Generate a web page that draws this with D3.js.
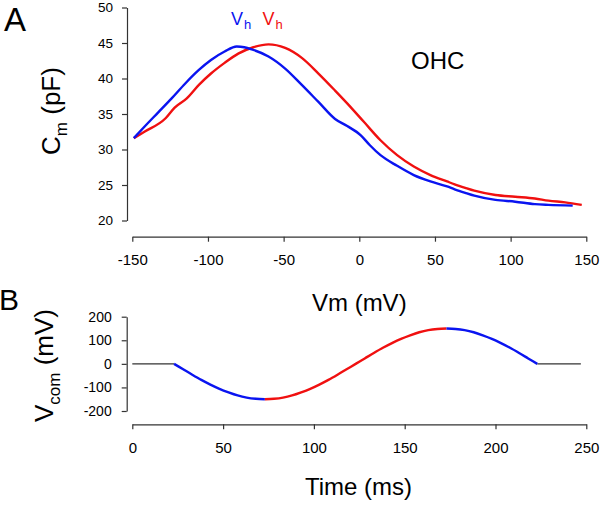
<!DOCTYPE html>
<html>
<head>
<meta charset="utf-8">
<script src="https://cdn.jsdelivr.net/npm/d3@7"></script>
<style>
  html, body { margin: 0; padding: 0; background: #fff; }
  svg { display: block; font-family: Arial, "Liberation Sans", sans-serif; }
</style>
</head>
<body>
<svg id="chart" width="600" height="505"></svg>
<script>
// ---------- Panel A data: Cm (pF) vs Vm (mV) ----------
const blueV = [-149, -142, -133, -124, -115, -106, -98, -89, -81, -76, -71, -60, -49, -38, -27, -16, -8, 1, 7, 14, 25, 36, 47, 58, 63, 70, 76, 90, 103, 116, 125, 141];
const blueC = [31.6, 33.2, 35.2, 37.2, 39.3, 41.2, 42.6, 43.8, 44.5, 44.4, 44.1, 43.1, 41.4, 39.1, 36.7, 34.3, 33.3, 32.0, 30.6, 29.2, 27.7, 26.4, 25.5, 24.8, 24.4, 23.9, 23.5, 22.9, 22.65, 22.3, 22.2, 22.1];
const redV  = [-149, -142, -128, -122, -114, -106, -98, -89, -80, -70, -60, -49, -38, -27, -16, -8, 3, 14, 25, 36, 47, 58, 63, 70, 76, 90, 103, 116, 125, 136, 147];
const redC  = [31.6, 32.5, 34.4, 35.9, 37.2, 39.1, 40.7, 42.2, 43.5, 44.4, 44.8, 44.3, 42.9, 40.7, 38.3, 36.5, 33.9, 31.3, 29.2, 27.6, 26.4, 25.5, 25.1, 24.6, 24.2, 23.6, 23.35, 23.1, 22.8, 22.55, 22.2];
const aXTicks = [-150, -100, -50, 0, 50, 100, 150];
const aYTicks = [20, 25, 30, 35, 40, 45, 50];

// ---------- Panel B data: Vcom (mV) vs Time (ms) ----------
const flat1T = [0, 23];          const flat1V = [0, 0];
const blue1T = [23, 28, 33, 38, 43, 48, 53, 58, 63, 68, 73];
const blue1V = [0, -23, -46, -68, -88, -106, -121, -134, -143, -148, -150];
const redBT  = [73, 78, 83, 88, 93, 98, 103, 108, 113, 118, 123, 128, 133, 138, 143, 148, 153, 158, 163, 168, 173];
const redBV  = [-150, -148, -143, -134, -121, -106, -88, -68, -46, -23, 0, 23, 46, 68, 88, 106, 121, 134, 143, 148, 150];
const blue2T = [173, 178, 183, 188, 193, 198, 203, 208, 213, 218, 223];
const blue2V = [150, 148, 143, 134, 121, 106, 88, 68, 46, 23, 0];
const flat2T = [223, 247];       const flat2V = [0, 0];
const bXTicks = [0, 50, 100, 150, 200, 250];
const bYTicks = [-200, -100, 0, 100, 200];

const BLUE = "#0a14f0", RED = "#f01010", AXIS = "#333";
const svg = d3.select("#chart");
const zip = (a, b) => a.map((v, i) => [v, b[i]]);
const fmt = d => String(d);

function styleAxis(g) {
  g.select(".domain").attr("stroke", AXIS).attr("stroke-width", 1.2);
  g.selectAll(".tick line").attr("stroke", AXIS).attr("stroke-width", 1.2);
  g.selectAll(".tick text").attr("fill", "#000").attr("font-family", "Arial, 'Liberation Sans', sans-serif");
}

// ===== Panel A =====
const ax = d3.scaleLinear().domain([-150, 150]).range([132.3, 586.3]);
const ay = d3.scaleLinear().domain([20, 50]).range([220.5, 7.5]);

const gAx = svg.append("g").attr("transform", "translate(0,236.7)")
  .call(d3.axisBottom(ax).tickValues(aXTicks).tickSize(5).tickSizeOuter(0).tickPadding(13).tickFormat(fmt));
gAx.selectAll(".tick text").attr("font-size", 15);
styleAxis(gAx);

const gAy = svg.append("g").attr("transform", "translate(127,0)")
  .call(d3.axisLeft(ay).tickValues(aYTicks).tickSize(5).tickSizeOuter(0).tickPadding(9).tickFormat(fmt));
gAy.selectAll(".tick text").attr("font-size", 13.5);
styleAxis(gAy);

const lineA = d3.line().x(d => ax(d[0])).y(d => ay(d[1])).curve(d3.curveMonotoneX);
svg.append("path").datum(zip(redV, redC)).attr("d", lineA)
  .attr("fill", "none").attr("stroke", RED).attr("stroke-width", 2.4);
svg.append("path").datum(zip(blueV, blueC)).attr("d", lineA)
  .attr("fill", "none").attr("stroke", BLUE).attr("stroke-width", 2.4);

// Panel A labels
svg.append("text").attr("x", 4).attr("y", 31).attr("font-size", 33).text("A");
svg.append("text").attr("x", 411).attr("y", 68.5).attr("font-size", 24).text("OHC");
svg.append("text").attr("x", 359.3).attr("y", 310.5).attr("font-size", 24)
  .attr("text-anchor", "middle").text("Vm (mV)");

function vh(x, color) {
  const t = svg.append("text").attr("x", x).attr("y", 24.5).attr("font-size", 18).attr("fill", color);
  t.append("tspan").text("V");
  t.append("tspan").attr("font-size", 13).attr("dy", 4).attr("dx", 1).text("h");
}
vh(231, BLUE);
vh(262.5, RED);

// Cm (pF) rotated
{
  const t = svg.append("text").attr("transform", "translate(60,111) rotate(-90)")
    .attr("text-anchor", "middle").attr("font-size", 26);
  t.append("tspan").text("C");
  t.append("tspan").attr("font-size", 17).attr("dy", 7).text("m");
  t.append("tspan").attr("dy", -7).text("\u00a0(pF)");
}

// ===== Panel B =====
const bx = d3.scaleLinear().domain([0, 250]).range([132.3, 586.3]);
const by = d3.scaleLinear().domain([-200, 200]).range([411, 316.7]);

const gBx = svg.append("g").attr("transform", "translate(0,424.3)")
  .call(d3.axisBottom(bx).tickValues(bXTicks).tickSize(5).tickSizeOuter(0).tickPadding(13.5).tickFormat(fmt));
gBx.selectAll(".tick text").attr("font-size", 15);
styleAxis(gBx);

const gBy = svg.append("g").attr("transform", "translate(126.7,0)")
  .call(d3.axisLeft(by).tickValues(bYTicks).tickSize(5).tickSizeOuter(0).tickPadding(10).tickFormat(fmt));
gBy.selectAll(".tick text").attr("font-size", 14);
styleAxis(gBy);

const lineB = d3.line().x(d => bx(d[0])).y(d => by(d[1])).curve(d3.curveMonotoneX);
[[flat1T, flat1V], [flat2T, flat2V]].forEach(([t, v]) => {
  svg.append("path").datum(zip(t, v)).attr("d", lineB)
    .attr("fill", "none").attr("stroke", AXIS).attr("stroke-width", 1.2);
});
[[blue1T, blue1V, BLUE], [redBT, redBV, RED], [blue2T, blue2V, BLUE]].forEach(([t, v, c]) => {
  svg.append("path").datum(zip(t, v)).attr("d", lineB)
    .attr("fill", "none").attr("stroke", c).attr("stroke-width", 2.4);
});

svg.append("text").attr("x", -1).attr("y", 310).attr("font-size", 30).text("B");
svg.append("text").attr("x", 358.5).attr("y", 495).attr("font-size", 24)
  .attr("text-anchor", "middle").text("Time (ms)");

// Vcom (mV) rotated
{
  const t = svg.append("text").attr("transform", "translate(53,365.5) rotate(-90)")
    .attr("text-anchor", "middle").attr("font-size", 26);
  t.append("tspan").text("V");
  t.append("tspan").attr("font-size", 17).attr("dy", 7).text("com");
  t.append("tspan").attr("dy", -7).text("\u00a0(mV)");
}
</script>
</body>
</html>
